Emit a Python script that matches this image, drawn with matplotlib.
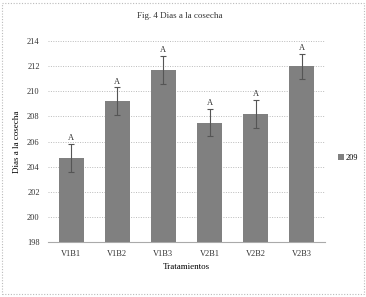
import matplotlib
matplotlib.use("Agg")
import matplotlib.pyplot as plt
from matplotlib.patches import Rectangle

# datos
tratamientos = ["V1B1", "V1B2", "V1B3", "V2B1", "V2B2", "V2B3"]
dias = [204.7, 209.2, 211.7, 207.5, 208.2, 212.0]
error = [1.1, 1.1, 1.1, 1.1, 1.1, 1.0]
letras = ["A", "A", "A", "A", "A", "A"]

plt.rcParams["font.family"] = ["Liberation Serif", "DejaVu Serif"]

fig = plt.figure(figsize=(3.66, 2.97), dpi=100)
ax = fig.add_axes([0.131, 0.185, 0.757, 0.677])

x = range(len(tratamientos))
ax.bar(x, dias, width=0.54, color="#808080", zorder=3, label="209")
ax.errorbar(x, dias, yerr=error, fmt="none", ecolor="#555555",
            elinewidth=0.8, capsize=2.5, capthick=0.8, zorder=4)
for i, (d, e, l) in enumerate(zip(dias, error, letras)):
    ax.text(i, d + e + 0.15, l, ha="center", va="bottom", fontsize=6, color="#333333")

ax.set_ylim(198, 214)
ax.set_yticks(range(198, 215, 2))
ax.set_xlim(-0.5, 5.5)
ax.set_xticks(list(x))
ax.set_xticklabels(tratamientos)
ax.tick_params(labelsize=6, length=0, colors="#333333")
ax.tick_params(axis="x", pad=6)
ax.tick_params(axis="y", pad=6)
ax.yaxis.grid(True, linestyle=(0, (1, 1.5)), color="#bbbbbb", linewidth=0.7, zorder=0)
for s in ["top", "right", "left"]:
    ax.spines[s].set_visible(False)
ax.spines["bottom"].set_color("#aaaaaa")

ax.set_xlabel("Tratamientos", fontsize=6.5, labelpad=3)
ax.set_ylabel("Dias a la cosecha", fontsize=6.5, labelpad=4)
fig.text(0.49, 0.945, "Fig. 4 Dias a la cosecha", ha="center", va="center", fontsize=6.5, color="#333333")

ax.legend(loc="center left", bbox_to_anchor=(1.02, 0.42), frameon=False, fontsize=6,
          handlelength=0.7, handleheight=0.7, handletextpad=0.2)

# borde punteado
fig.patches.append(Rectangle((0.005, 0.01), 0.99, 0.98, transform=fig.transFigure,
                             fill=False, edgecolor="#bbbbbb", linestyle=(0, (1, 1.5)), linewidth=0.8))

fig.savefig("out.png", dpi=100)
